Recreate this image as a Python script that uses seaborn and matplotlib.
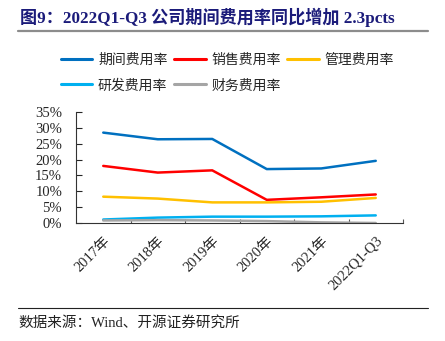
import matplotlib
matplotlib.use("Agg")
import matplotlib.pyplot as plt
import seaborn as sns
import pandas as pd
from matplotlib.lines import Line2D
from matplotlib.ticker import FuncFormatter

categories = ["2017年", "2018年", "2019年", "2020年", "2021年", "2022Q1-Q3"]
series_names = ["期间费用率", "销售费用率", "管理费用率", "研发费用率", "财务费用率"]
period_rate = [28.5, 26.4, 26.5, 17.0, 17.2, 19.6]
sales_rate = [18.0, 15.9, 16.6, 7.3, 8.1, 9.0]
admin_rate = [8.3, 7.7, 6.5, 6.5, 6.7, 7.9]
rd_rate = [1.1, 1.7, 2.0, 2.0, 2.1, 2.4]
fin_rate = [0.8, 0.9, 0.8, 0.6, 0.2, 0.0]
colors = ["#0070C0", "#FF0000", "#FFC000", "#00B0F0", "#A5A5A5"]

values = [period_rate, sales_rate, admin_rate, rd_rate, fin_rate]
rows = []
for name, vals in zip(series_names, values):
    for c, v in zip(categories, vals):
        rows.append({"cat": c, "name": name, "val": v})
df = pd.DataFrame(rows)

sns.set_theme(style="white")
plt.rcParams["font.family"] = ["Liberation Serif", "Noto Sans CJK SC", "DejaVu Sans"]
plt.rcParams["axes.unicode_minus"] = False

fig = plt.figure(figsize=(4.45, 3.41), dpi=100)
ax = fig.add_axes([76 / 445, 1 - 223 / 341, (403 - 76) / 445, (223 - 112) / 341])

sns.lineplot(data=df, x="cat", y="val", hue="name", hue_order=series_names,
             palette=colors, linewidth=1.8, sort=False, legend=False, ax=ax)

ax.set_xlim(-0.5, 5.5)
ax.set_ylim(0, 35)
ax.set_yticks(range(0, 36, 5))
ax.yaxis.set_major_formatter(FuncFormatter(lambda v, p: f"{int(v)}%"))
ax.set_xticks(range(len(categories)))
ax.set_xticklabels(categories, rotation=45, ha="right", rotation_mode="anchor",
                   fontsize=10.5, family=["Liberation Serif", "Noto Sans CJK SC"])
ax.set_xticks([i + 0.5 for i in range(len(categories))], minor=True)
ax.tick_params(axis="x", which="major", length=0, pad=8)
ax.tick_params(axis="x", which="minor", length=3, direction="in", width=0.8, color="#555555", bottom=True)
ax.tick_params(axis="y", which="major", length=4, direction="in", width=0.8, left=True, labelsize=10.5, pad=10)
for lab in ax.get_yticklabels():
    lab.set_family(["Liberation Serif"])
ax.set_xlabel("")
ax.set_ylabel("")
for s in ["top", "right"]:
    ax.spines[s].set_visible(False)
for s in ["left", "bottom"]:
    ax.spines[s].set_color("#333333")
    ax.spines[s].set_linewidth(0.8)
ax.grid(False)

handles = [Line2D([], [], color=c, lw=2.2) for c in colors]
order = [0, 3, 1, 4, 2]
leg = fig.legend([handles[i] for i in order], [series_names[i] for i in order],
                 ncol=3, loc="upper left", bbox_to_anchor=(48 / 445, 1 - 40 / 341),
                 frameon=False, handlelength=2.3, handletextpad=0.4, columnspacing=0.45,
                 labelspacing=0.85, prop={"family": ["Noto Sans CJK SC"], "size": 10})

fig.text(20 / 445, 1 - 17 / 341, "图9：2022Q1-Q3 公司期间费用率同比增加 2.3pcts",
         fontsize=12.3, fontweight="bold", color="#1B1B7A", va="center", ha="left",
         family=["Liberation Serif", "Noto Sans CJK SC"])
fig.add_artist(Line2D([18 / 445, 428 / 445], [1 - 31 / 341, 1 - 31 / 341],
                      color="#8C8C8C", lw=1.6, transform=fig.transFigure))
fig.add_artist(Line2D([18 / 445, 428 / 445], [1 - 308 / 341, 1 - 308 / 341],
                      color="#222222", lw=0.8, transform=fig.transFigure))
fig.text(18 / 445, 1 - 323 / 341, "数据来源：Wind、开源证券研究所", fontsize=10.5,
         color="#222222", va="center", ha="left",
         family=["Liberation Serif", "Noto Sans CJK SC"])

fig.savefig("out.png", dpi=100)
